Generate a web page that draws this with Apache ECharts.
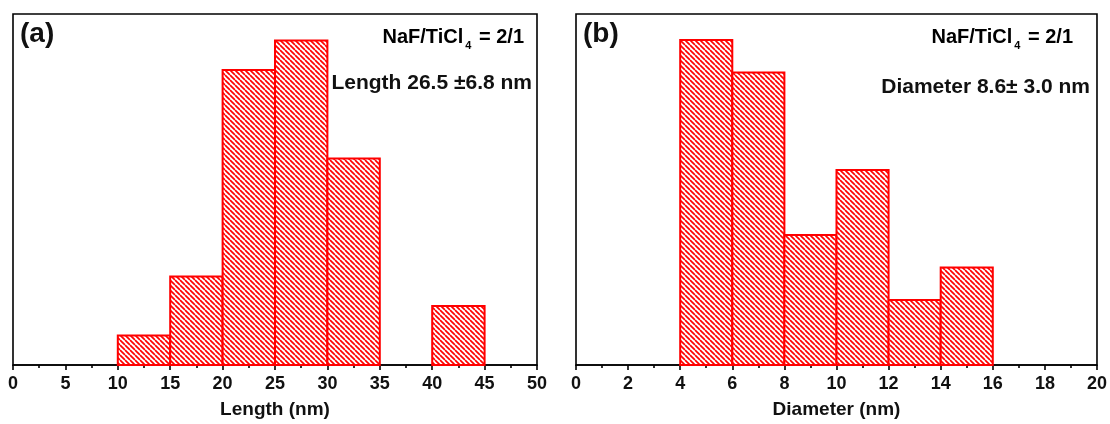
<!DOCTYPE html>
<html><head><meta charset="utf-8">
<script src="https://cdn.jsdelivr.net/npm/echarts@6/dist/echarts.min.js"></script>
<style>html,body{margin:0;padding:0;background:#fff}#c{width:1110px;height:424px}</style>
</head><body><div id="c"></div>
<script>
// Panel (a): length histogram
const lengthBinStarts = [10, 15, 20, 25, 30, 35, 40];
const lengthBinWidth = 5;
const lengthCounts = [1, 3, 10, 11, 7, 0, 2];
// Panel (b): diameter histogram
const diameterBinStarts = [4, 6, 8, 10, 12, 14];
const diameterBinWidth = 2;
const diameterCounts = [10, 9, 4, 6, 2, 3];

const lengthTitle = 'Length (nm)';
const diameterTitle = 'Diameter (nm)';

function hatch() {
  const n = 5;
  const c = document.createElement('canvas');
  c.width = n; c.height = n;
  const g = c.getContext('2d');
  g.fillStyle = '#fff'; g.fillRect(0, 0, n, n);
  g.strokeStyle = '#ff0000'; g.lineWidth = 1.7;
  for (const o of [-n, 0, n]) { g.beginPath(); g.moveTo(o, 0); g.lineTo(o + n, n); g.stroke(); }
  return c;
}
const pattern = { image: hatch(), repeat: 'repeat' };

function binData(starts, w, counts) {
  return starts.map((s, i) => [s, s + w, counts[i]]);
}
function renderItem(params, api) {
  const c = api.value(2);
  if (!c) return null;
  const p0 = api.coord([api.value(0), c]);
  const p1 = api.coord([api.value(1), 0]);
  return { type: 'rect', shape: { x: p0[0], y: p0[1], width: p1[0] - p0[0], height: p1[1] - p0[1] },
    style: { fill: pattern, stroke: '#ff0000', lineWidth: 2 } };
}
const font = 'Liberation Sans, Arial, sans-serif';
function xAxis(gi, max, interval, name) {
  return { type: 'value', gridIndex: gi, min: 0, max: max, interval: interval,
    name: name, nameLocation: 'middle', nameGap: 35,
    nameTextStyle: { fontFamily: font, fontWeight: 'bold', fontSize: 19, color: '#111' },
    axisLine: { show: true, lineStyle: { color: '#000', width: 1.6 } },
    axisTick: { show: true, length: 5, inside: false, lineStyle: { color: '#000', width: 1.6 } },
    minorTick: { show: true, splitNumber: 2, length: 3, lineStyle: { color: '#000', width: 1.6 } },
    axisLabel: { fontFamily: font, fontWeight: 'bold', fontSize: 18, color: '#111', margin: 10 },
    splitLine: { show: false } };
}
function yAxis(gi, max) {
  return { type: 'value', gridIndex: gi, min: 0, max: max,
    axisLine: { show: false }, axisTick: { show: false }, axisLabel: { show: false }, splitLine: { show: false } };
}
const ratioRich = { n: { fontFamily: font, fontWeight: 'bold', fontSize: 20, color: '#111' },
  s: { fontFamily: font, fontWeight: 'bold', fontSize: 11, color: '#111', padding: [18, 2, 0, 2] } };
const chart = echarts.init(document.getElementById('c'));
chart.setOption({
  animation: false,
  backgroundColor: '#fff',
  grid: [
    { left: 13, right: 573, top: 14, bottom: 58, show: true, borderColor: '#000', borderWidth: 1.6 },
    { left: 576, right: 10, top: 14, bottom: 58, show: true, borderColor: '#000', borderWidth: 1.6 }
  ],
  xAxis: [xAxis(0, 50, 5, lengthTitle), xAxis(1, 20, 2, diameterTitle)],
  yAxis: [yAxis(0, 11.9), yAxis(1, 10.8)],
  series: [
    { type: 'custom', xAxisIndex: 0, yAxisIndex: 0, renderItem: renderItem, data: binData(lengthBinStarts, lengthBinWidth, lengthCounts), encode: { x: [0, 1], y: 2 } },
    { type: 'custom', xAxisIndex: 1, yAxisIndex: 1, renderItem: renderItem, data: binData(diameterBinStarts, diameterBinWidth, diameterCounts), encode: { x: [0, 1], y: 2 } }
  ],
  graphic: [
    { type: 'text', left: 20, top: 20, style: { text: '(a)', font: 'bold 28px ' + font, fill: '#111' } },
    { type: 'text', left: 583, top: 20, style: { text: '(b)', font: 'bold 28px ' + font, fill: '#111' } },
    { type: 'text', right: 586, top: 27, style: { text: '{n|NaF/TiCl}{s|4}{n| = 2/1}', rich: ratioRich } },
    { type: 'text', right: 578, top: 73, style: { text: 'Length 26.5 \u00b16.8 nm', font: 'bold 21px ' + font, fill: '#111' } },
    { type: 'text', right: 37, top: 27, style: { text: '{n|NaF/TiCl}{s|4}{n| = 2/1}', rich: ratioRich } },
    { type: 'text', right: 20, top: 77, style: { text: 'Diameter 8.6\u00b1 3.0 nm', font: 'bold 21px ' + font, fill: '#111' } }
  ]
});
</script></body></html>
